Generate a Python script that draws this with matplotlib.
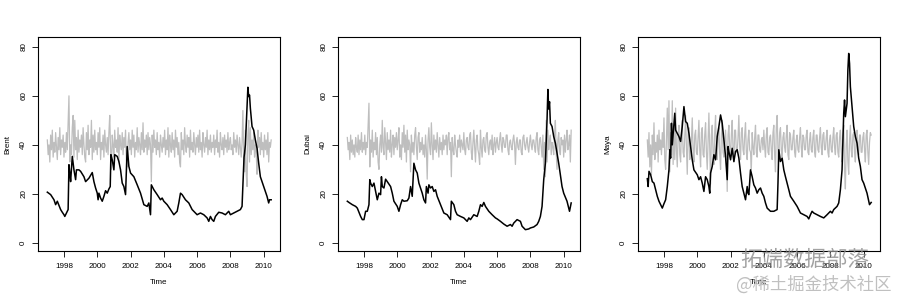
import numpy as np
import matplotlib
matplotlib.use("Agg")
import matplotlib.pyplot as plt

# black series: (time, value)
brent_t = [1997.0, 1997.2, 1997.4, 1997.5, 1997.6, 1997.8, 1997.9, 1998.0, 1998.05, 1998.2,
           1998.25, 1998.3, 1998.35, 1998.4, 1998.5, 1998.6, 1998.7, 1998.75, 1998.9, 1999.0,
           1999.2, 1999.3, 1999.5, 1999.7, 1999.8, 1999.9, 2000.0, 2000.05, 2000.1, 2000.2,
           2000.3, 2000.4, 2000.5, 2000.6, 2000.7, 2000.78, 2000.82, 2000.9, 2001.0, 2001.05,
           2001.2, 2001.3, 2001.4, 2001.5, 2001.6, 2001.7, 2001.8, 2001.9, 2002.0, 2002.2,
           2002.4, 2002.6, 2002.8, 2003.0, 2003.1, 2003.2, 2003.25, 2003.4, 2003.6, 2003.8,
           2003.9, 2004.0, 2004.2, 2004.4, 2004.6, 2004.8, 2004.9, 2005.0, 2005.1, 2005.3,
           2005.5, 2005.7, 2005.9, 2006.0, 2006.2, 2006.4, 2006.6, 2006.7, 2006.8, 2006.9,
           2007.0, 2007.1, 2007.3, 2007.5, 2007.7, 2007.9, 2008.0, 2008.2, 2008.4, 2008.6,
           2008.7, 2008.78, 2008.82, 2008.85, 2008.9, 2009.0, 2009.05, 2009.1, 2009.15, 2009.2,
           2009.3, 2009.4, 2009.5, 2009.6, 2009.7, 2009.8, 2010.0, 2010.2, 2010.3, 2010.35,
           2010.45]
brent_v = [20.7, 19.7, 17.6, 15.6, 17.0, 13.6, 12.5, 11.5, 10.8, 12.9,
           13.6, 31.9, 28.5, 25.0, 35.3, 29.8, 25.8, 29.8, 29.8, 29.2,
           27.0, 25.0, 26.4, 28.7, 25.0, 22.4, 20.3, 17.6, 20.3, 18.3,
           17.0, 19.0, 21.3, 20.3, 22.0, 23.0, 36.0, 33.9, 29.8, 36.0,
           35.3, 33.2, 29.8, 24.4, 23.0, 19.7, 39.3, 31.2, 28.5, 27.0,
           23.7, 20.3, 15.6, 14.9, 16.3, 11.5, 23.7, 21.7, 19.7, 17.6,
           18.3, 17.0, 15.6, 13.6, 11.5, 12.9, 16.3, 20.3, 19.7, 17.6,
           16.3, 13.6, 12.2, 11.5, 12.2, 11.5, 10.2, 8.8, 10.8, 9.5,
           8.8, 10.8, 12.5, 12.2, 11.5, 12.9, 11.5, 12.2, 12.9, 13.6,
           14.9, 28.5, 35.0, 36.6, 40.0, 55.6, 63.5, 59.7, 60.3, 54.9,
           47.5, 46.0, 42.0, 38.6, 32.5, 27.0, 23.0, 19.0, 16.3, 17.6,
           17.6]

dubai_t = [1997.0, 1997.1, 1997.3, 1997.5, 1997.6, 1997.8, 1997.9, 1998.0, 1998.1, 1998.2,
           1998.3, 1998.35, 1998.4, 1998.5, 1998.6, 1998.7, 1998.8, 1998.9, 1999.0, 1999.05,
           1999.1, 1999.2, 1999.3, 1999.4, 1999.6, 1999.7, 1999.8, 2000.0, 2000.1, 2000.2,
           2000.3, 2000.4, 2000.6, 2000.7, 2000.8, 2000.9, 2001.0, 2001.1, 2001.2, 2001.3,
           2001.5, 2001.6, 2001.7, 2001.75, 2001.85, 2001.9, 2002.0, 2002.1, 2002.2, 2002.3,
           2002.4, 2002.6, 2002.8, 2003.0, 2003.2, 2003.25, 2003.4, 2003.5, 2003.6, 2003.8,
           2004.0, 2004.2, 2004.3, 2004.4, 2004.6, 2004.8, 2004.9, 2005.0, 2005.1, 2005.2,
           2005.3, 2005.5, 2005.7, 2005.9, 2006.0, 2006.2, 2006.4, 2006.6, 2006.8, 2006.9,
           2007.0, 2007.1, 2007.2, 2007.4, 2007.5, 2007.7, 2007.9, 2008.0, 2008.2, 2008.4,
           2008.5, 2008.6, 2008.7, 2008.8, 2008.9, 2009.0, 2009.05, 2009.1, 2009.15, 2009.2,
           2009.3, 2009.4, 2009.5, 2009.6, 2009.7, 2009.8, 2009.9, 2010.0, 2010.2, 2010.35,
           2010.45]
dubai_v = [17.0, 16.5, 15.6, 14.9, 14.2, 10.8, 9.5, 9.5, 12.9, 12.9,
           15.6, 25.8, 24.4, 23.0, 24.4, 21.0, 17.6, 20.3, 19.7, 27.0,
           23.0, 22.4, 26.0, 25.0, 23.0, 20.3, 17.0, 14.9, 12.9, 15.6,
           17.6, 17.0, 17.2, 18.3, 23.0, 19.0, 32.5, 29.8, 28.5, 24.4,
           20.3, 17.6, 16.3, 23.0, 20.3, 23.7, 22.4, 23.0, 21.0, 21.7,
           19.0, 15.6, 12.2, 11.5, 9.5, 17.0, 15.6, 12.9, 11.5, 10.8,
           10.2, 8.8, 10.2, 9.5, 11.5, 10.8, 12.9, 15.6, 14.9, 16.5,
           14.9, 12.9, 11.5, 10.2, 9.8, 8.8, 7.7, 6.8, 7.5, 6.8,
           8.1, 8.8, 9.5, 8.8, 6.8, 5.4, 5.7, 6.1, 6.5, 7.5,
           8.8, 10.8, 14.9, 25.8, 32.5, 50.2, 62.6, 54.6, 57.6, 48.8,
           47.5, 43.4, 40.7, 36.6, 32.5, 27.8, 23.0, 20.3, 17.0, 12.9,
           16.3]

maya_t = [1997.0, 1997.05, 1997.1, 1997.2, 1997.3, 1997.4, 1997.5, 1997.6, 1997.7, 1997.8,
          1997.9, 1998.0, 1998.1, 1998.2, 1998.3, 1998.35, 1998.4, 1998.45, 1998.5, 1998.6,
          1998.65, 1998.7, 1998.8, 1998.9, 1999.0, 1999.1, 1999.2, 1999.3, 1999.4, 1999.5,
          1999.6, 1999.7, 1999.8, 2000.0, 2000.1, 2000.2, 2000.3, 2000.4, 2000.5, 2000.6,
          2000.7, 2000.75, 2000.8, 2000.9, 2001.0, 2001.1, 2001.2, 2001.3, 2001.4, 2001.5,
          2001.6, 2001.7, 2001.8, 2001.85, 2001.9, 2002.0, 2002.1, 2002.2, 2002.3, 2002.4,
          2002.5, 2002.6, 2002.7, 2002.8, 2002.9, 2003.0, 2003.05, 2003.1, 2003.2, 2003.3,
          2003.4, 2003.5, 2003.6, 2003.7, 2003.8, 2003.9, 2004.0, 2004.1, 2004.2, 2004.4,
          2004.6, 2004.8, 2004.85, 2004.9, 2005.0, 2005.1, 2005.2, 2005.3, 2005.4, 2005.5,
          2005.6, 2005.8, 2006.0, 2006.2, 2006.4, 2006.6, 2006.7, 2006.8, 2006.9, 2007.0,
          2007.2, 2007.4, 2007.6, 2007.8, 2008.0, 2008.1, 2008.2, 2008.4, 2008.5, 2008.6,
          2008.7, 2008.8, 2008.85, 2008.9, 2009.0, 2009.05, 2009.1, 2009.15, 2009.2, 2009.3,
          2009.4, 2009.5, 2009.6, 2009.7, 2009.8, 2009.9, 2010.0, 2010.2, 2010.35, 2010.45]
maya_v = [26.2, 23.0, 29.2, 27.8, 25.0, 24.4, 21.7, 19.0, 17.0, 15.6,
          14.2, 16.0, 17.6, 23.0, 29.8, 38.0, 34.6, 48.8, 40.0, 48.8,
          52.9, 46.0, 44.7, 43.4, 41.4, 47.5, 55.6, 49.5, 48.8, 44.7,
          39.3, 33.9, 29.8, 27.8, 25.8, 27.0, 24.4, 21.0, 27.0, 25.8,
          23.0, 20.3, 28.5, 31.2, 36.0, 33.9, 43.4, 47.5, 52.2, 48.8,
          42.0, 35.3, 25.8, 39.3, 37.3, 33.9, 38.6, 33.2, 37.3, 38.0,
          34.6, 28.5, 23.0, 20.3, 17.6, 23.0, 20.3, 19.7, 29.8, 27.0,
          23.7, 22.4, 20.3, 21.7, 22.4, 20.3, 19.0, 16.3, 14.2, 12.9,
          12.9, 13.6, 24.4, 38.0, 33.2, 34.6, 29.8, 27.0, 24.4, 21.7,
          19.0, 17.0, 14.9, 12.2, 11.5, 10.8, 9.8, 11.5, 12.9, 12.2,
          11.5, 10.8, 10.2, 11.5, 12.9, 12.2, 13.6, 14.9, 16.3, 21.7,
          29.8, 52.9, 58.3, 51.5, 56.9, 70.5, 77.3, 73.2, 63.7, 55.6,
          47.5, 43.4, 40.7, 34.6, 31.2, 25.8, 24.4, 20.3, 15.6, 16.5]

# grey series, one value every 0.05 year from 1997.0 to 2010.45 (20 per row = one year)
brent_grey = [42, 36, 40, 33, 44, 38, 46, 35, 41, 37, 45, 39, 34, 43, 38, 47, 36, 42, 39, 44,
              35, 41, 37, 45, 38, 49, 60, 33, 40, 36, 47, 52, 35, 50, 38, 43, 34, 46, 37, 42,
              39, 44, 36, 47, 40, 35, 33, 45, 38, 48, 36, 42, 39, 50, 34, 44, 37, 46, 38, 41,
              36, 45, 39, 47, 34, 41, 38, 44, 35, 46, 40, 37, 43, 36, 45, 52, 38, 30, 44, 40,
              35, 46, 39, 42, 37, 47, 33, 44, 40, 38, 45, 36, 43, 39, 46, 34, 31, 41, 45, 38,
              42, 36, 46, 39, 44, 35, 41, 38, 47, 37, 43, 40, 36, 45, 38, 49, 37, 42, 39, 44,
              36, 45, 38, 43, 40, 25, 44, 37, 46, 39, 42, 36, 45, 38, 41, 35, 44, 40, 37, 43,
              39, 46, 36, 42, 38, 47, 35, 44, 40, 37, 45, 38, 42, 35, 46, 39, 43, 36, 41, 33,
              31, 45, 38, 42, 36, 47, 40, 37, 44, 39, 43, 35, 46, 38, 41, 37, 45, 40, 36, 43,
              39, 44, 37, 46, 38, 41, 35, 45, 40, 37, 43, 39, 46, 36, 42, 38, 44, 37, 41, 39,
              44, 36, 42, 39, 46, 37, 41, 35, 45, 40, 38, 43, 36, 44, 39, 42, 37, 45, 38, 41,
              43, 38, 40, 36, 45, 39, 42, 37, 44, 40, 36, 43, 39, 35, 41, 54, 34, 29, 46, 28,
              23, 44, 50, 33, 47, 36, 42, 38, 45, 35, 40, 37, 28, 46, 39, 43, 36, 45, 38, 41,
              35, 44, 38, 42, 36, 45, 33, 41, 39, 42]
dubai_grey = [43, 38, 41, 34, 44, 37, 42, 36, 40, 35, 43, 39, 37, 44, 36, 42, 38, 45, 37, 41,
              38, 44, 36, 41, 39, 48, 57, 31, 42, 37, 46, 35, 41, 38, 45, 36, 43, 33, 30, 40,
              44, 37, 50, 39, 36, 47, 41, 34, 45, 38, 42, 37, 46, 35, 40, 44, 36, 43, 39, 45,
              38, 42, 47, 35, 40, 34, 45, 39, 48, 37, 44, 33, 46, 38, 42, 40, 29, 44, 37, 41,
              36, 44, 47, 39, 34, 43, 45, 37, 41, 38, 43, 36, 40, 35, 44, 38, 26, 42, 47, 39,
              36, 49, 40, 34, 44, 38, 42, 37, 45, 40, 35, 43, 38, 41, 36, 44, 38, 42, 40, 44,
              36, 43, 45, 38, 41, 27, 43, 38, 36, 44, 40, 37, 35, 42, 39, 44, 37, 42, 40, 38,
              45, 38, 36, 42, 43, 39, 38, 44, 45, 37, 34, 41, 46, 39, 33, 42, 44, 38, 36, 32,
              46, 39, 35, 42, 43, 38, 37, 44, 45, 39, 36, 41, 42, 38, 44, 36, 40, 43, 37, 41,
              43, 39, 38, 42, 45, 40, 37, 43, 42, 39, 39, 44, 44, 38, 36, 41, 42, 39, 38, 42,
              44, 40, 32, 41, 43, 39, 38, 42, 42, 37, 36, 43, 44, 40, 38, 41, 43, 39, 37, 41,
              44, 40, 38, 42, 42, 39, 37, 43, 45, 38, 36, 42, 43, 39, 35, 44, 30, 41, 27, 50,
              33, 46, 38, 42, 44, 36, 41, 39, 36, 44, 50, 37, 30, 42, 45, 38, 36, 43, 40, 42,
              35, 44, 37, 42, 46, 38, 40, 44, 33, 46]
maya_grey = [42, 35, 45, 31, 40, 28, 44, 36, 49, 34, 41, 37, 44, 33, 46, 38, 42, 36, 45, 39,
             51, 34, 30, 43, 55, 38, 58, 29, 45, 36, 58, 32, 47, 34, 55, 38, 31, 44, 48, 36,
             33, 46, 50, 37, 35, 44, 52, 39, 28, 45, 47, 34, 36, 42, 51, 38, 33, 44, 46, 37,
             36, 43, 50, 38, 31, 45, 47, 36, 35, 44, 49, 37, 30, 42, 53, 38, 24, 44, 48, 37,
             32, 45, 52, 38, 34, 43, 47, 36, 30, 44, 50, 37, 35, 41, 46, 38, 21, 44, 48, 39,
             35, 44, 50, 38, 33, 46, 46, 37, 37, 43, 52, 39, 34, 45, 47, 38, 36, 44, 49, 37,
             34, 42, 46, 38, 37, 30, 45, 39, 36, 43, 48, 37, 35, 44, 44, 38, 37, 42, 43, 38,
             46, 39, 35, 44, 47, 37, 36, 43, 44, 38, 34, 45, 48, 36, 29, 47, 52, 38, 33, 45,
             47, 38, 35, 43, 45, 39, 37, 44, 48, 36, 34, 45, 44, 38, 38, 43, 46, 37, 35, 42,
             44, 38, 37, 43, 47, 39, 35, 44, 43, 38, 38, 44, 46, 37, 36, 42, 45, 38, 37, 43,
             46, 37, 35, 44, 44, 38, 37, 43, 47, 39, 36, 44, 45, 38, 38, 43, 46, 37, 35, 42,
             44, 38, 37, 43, 47, 39, 36, 44, 45, 37, 35, 43, 46, 38, 33, 44, 48, 30, 22, 40,
             46, 33, 28, 42, 48, 38, 35, 44, 45, 37, 33, 43, 46, 38, 36, 44, 44, 37, 37, 43,
             45, 38, 33, 44, 46, 37, 32, 41, 45, 44]

names = ["Brent", "Dubai", "Maya"]
blacks = [(brent_t, brent_v), (dubai_t, dubai_v), (maya_t, maya_v)]
greys = [brent_grey, dubai_grey, maya_grey]
year_ticks = [1998, 2000, 2002, 2004, 2006, 2008, 2010]
val_ticks = [0, 20, 40, 60, 80]

plt.rcParams['font.family'] = ['Liberation Sans', 'DejaVu Sans']

fig = plt.figure(figsize=(9, 3), dpi=100)
lefts = [38 / 900, 338 / 900, 638 / 900]

for i in range(3):
    ax = fig.add_axes([lefts[i], 49 / 300, 242 / 900, 214 / 300])
    g = greys[i]
    gt = 1997.0 + 0.05 * np.arange(len(g))
    ax.plot(gt, g, color="#bebebe", lw=0.9)
    ax.plot(blacks[i][0], blacks[i][1], color="black", lw=1.1)
    ax.set_xlim(1996.44, 2010.98)
    ax.set_ylim(-3.3, 84.0)
    ax.set_xticks(year_ticks)
    ax.set_yticks(val_ticks)
    ax.set_xticklabels([str(y) for y in year_ticks], fontsize=5.8)
    ax.set_yticklabels([str(v) for v in val_ticks], fontsize=5.8, rotation=90, va="center")
    ax.tick_params(direction="out", length=4.3, width=0.6)
    ax.tick_params(axis="x", pad=4)
    ax.tick_params(axis="y", pad=3.5)
    for s in ax.spines.values():
        s.set_linewidth(0.8)
    ax.set_xlabel("Time", fontsize=5.8, labelpad=7)
    ax.set_ylabel(names[i], fontsize=5.8, labelpad=6)

# watermark
fig.text(805 / 900, 1 - 260 / 300, "拓端数据部落", fontsize=15.5, color="#8c8c8c",
         alpha=0.8, ha="center", va="center", family=['Noto Sans CJK SC', 'DejaVu Sans'])
fig.text(814 / 900, 1 - 285 / 300, "@稀土掘金技术社区", fontsize=12.5, color="#c0c0c0",
         ha="center", va="center", family=['Noto Sans CJK SC', 'DejaVu Sans'])

fig.savefig("out.png", dpi=100)
